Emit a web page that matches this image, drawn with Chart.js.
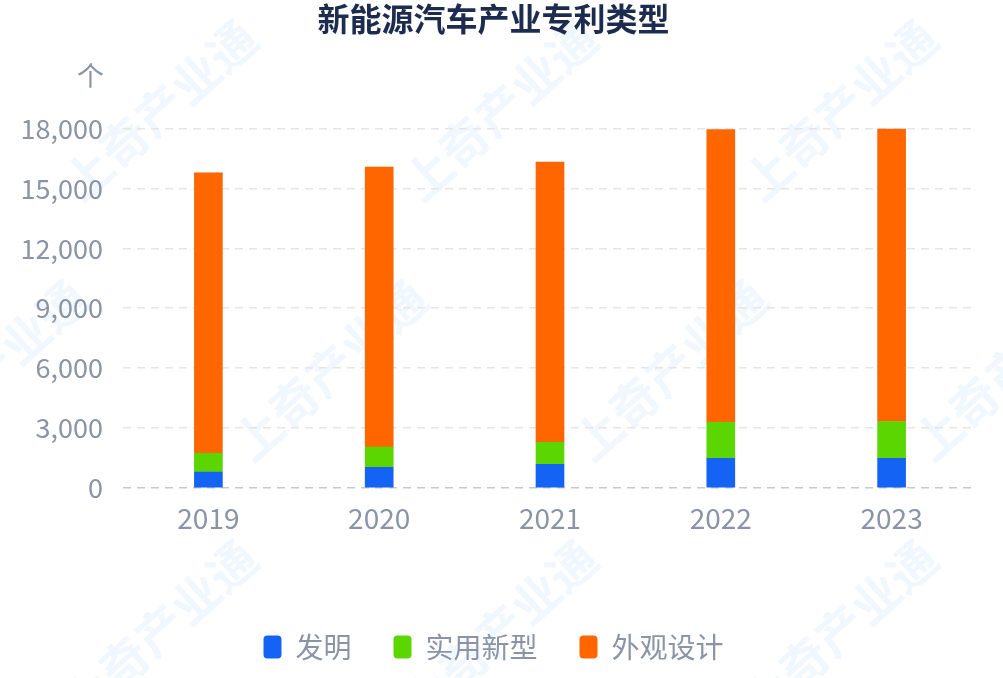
<!DOCTYPE html>
<html>
<head>
<meta charset="utf-8">
<title>新能源汽车产业专利类型</title>
<script src="https://cdn.jsdelivr.net/npm/chart.js@4/dist/chart.umd.min.js"></script>
<style>
  html, body { margin: 0; padding: 0; background: #fff; }
  #wrap { width: 1003px; height: 678px; }
</style>
</head>
<body>
<div id="wrap"><canvas id="patent-chart" width="1003" height="678"></canvas></div>
<script>
// values
const years = ['2019', '2020', '2021', '2022', '2023'];
const invention = [800, 1040, 1190, 1490, 1490];        // 发明
const utilityModel = [930, 1010, 1090, 1800, 1840];     // 实用新型
const design = [14040, 14020, 14040, 14650, 14650];     // 外观设计
const seriesNames = ['发明', '实用新型', '外观设计'];
const seriesColors = ['#1463f5', '#5cd600', '#ff6600'];
const yTicks = [0, 3000, 6000, 9000, 12000, 15000, 18000];

const FONT = "'Noto Sans CJK SC', 'Noto Sans', sans-serif";
const GREY = '#8a94a6';

// faint diagonal watermark behind the chart
const watermark = {
    id: 'watermark',
    beforeDraw(chart) {
        const ctx = chart.ctx;
        ctx.save();
        ctx.font = 'bold 48px ' + FONT;
        ctx.fillStyle = 'rgba(40, 140, 240, 0.07)';
        ctx.textAlign = 'center';
        ctx.textBaseline = 'middle';
        for (let row = -1; row < 4; row++) {
            for (let col = -1; col < 4; col++) {
                const x = 160 + col * 340 + row * 170;
                const y = 110 + row * 260;
                ctx.save();
                ctx.translate(x, y);
                ctx.rotate(-Math.PI / 4.3);
                ctx.fillText('上奇产业通', 0, 0);
                ctx.restore();
            }
        }
        ctx.restore();
    }
};

// unit label "个" above the y axis
const unitLabel = {
    id: 'unitLabel',
    afterDraw(chart) {
        const ctx = chart.ctx;
        ctx.save();
        ctx.font = '27px ' + FONT;
        ctx.fillStyle = GREY;
        ctx.textAlign = 'right';
        ctx.textBaseline = 'middle';
        ctx.fillText('个', 104, 76);
        ctx.restore();
    }
};

const ctx = document.getElementById('patent-chart');

new Chart(ctx, {
    type: 'bar',
    data: {
        labels: years,
        datasets: [invention, utilityModel, design].map(function (vals, i) {
            return {
                label: seriesNames[i],
                data: vals,
                backgroundColor: seriesColors[i],
                borderWidth: 0,
                barThickness: 28
            };
        })
    },
    options: {
        responsive: false,
        animation: false,
        devicePixelRatio: 1,
        layout: {
            padding: { left: 10, right: 26, top: 0, bottom: 7 }
        },
        plugins: {
            title: {
                display: true,
                text: '新能源汽车产业专利类型',
                color: '#1d2b4f',
                font: { family: FONT, size: 32, weight: 'bold' },
                padding: { top: 0, bottom: 90 }
            },
            legend: {
                position: 'bottom',
                labels: {
                    color: GREY,
                    font: { family: FONT, size: 28 },
                    boxWidth: 18,
                    boxHeight: 23,
                    useBorderRadius: true,
                    borderRadius: 4,
                    padding: 42
                }
            },
            tooltip: { enabled: false }
        },
        scales: {
            x: {
                stacked: true,
                grid: { display: false },
                border: { display: false },
                ticks: {
                    color: GREY,
                    font: { family: FONT, size: 28 },
                    padding: 6
                },
                afterFit: function (scale) { scale.height = 103; }
            },
            y: {
                stacked: true,
                min: 0,
                max: 18000,
                afterBuildTicks: function (scale) {
                    scale.ticks = yTicks.map(function (v) { return { value: v }; });
                },
                grid: {
                    drawTicks: false,
                    color: function (c) { return c.tick && c.tick.value === 0 ? '#c9c9c9' : '#e6e6e6'; },
                    lineWidth: 1.5
                },
                border: { display: false, dash: [8, 6] },
                ticks: {
                    color: GREY,
                    font: { family: FONT, size: 27 },
                    padding: 20,
                    callback: function (v) { return v.toLocaleString('en-US'); }
                },
                afterFit: function (scale) { scale.width = 113; }
            }
        }
    },
    plugins: [watermark, unitLabel]
});
</script>
</body>
</html>
